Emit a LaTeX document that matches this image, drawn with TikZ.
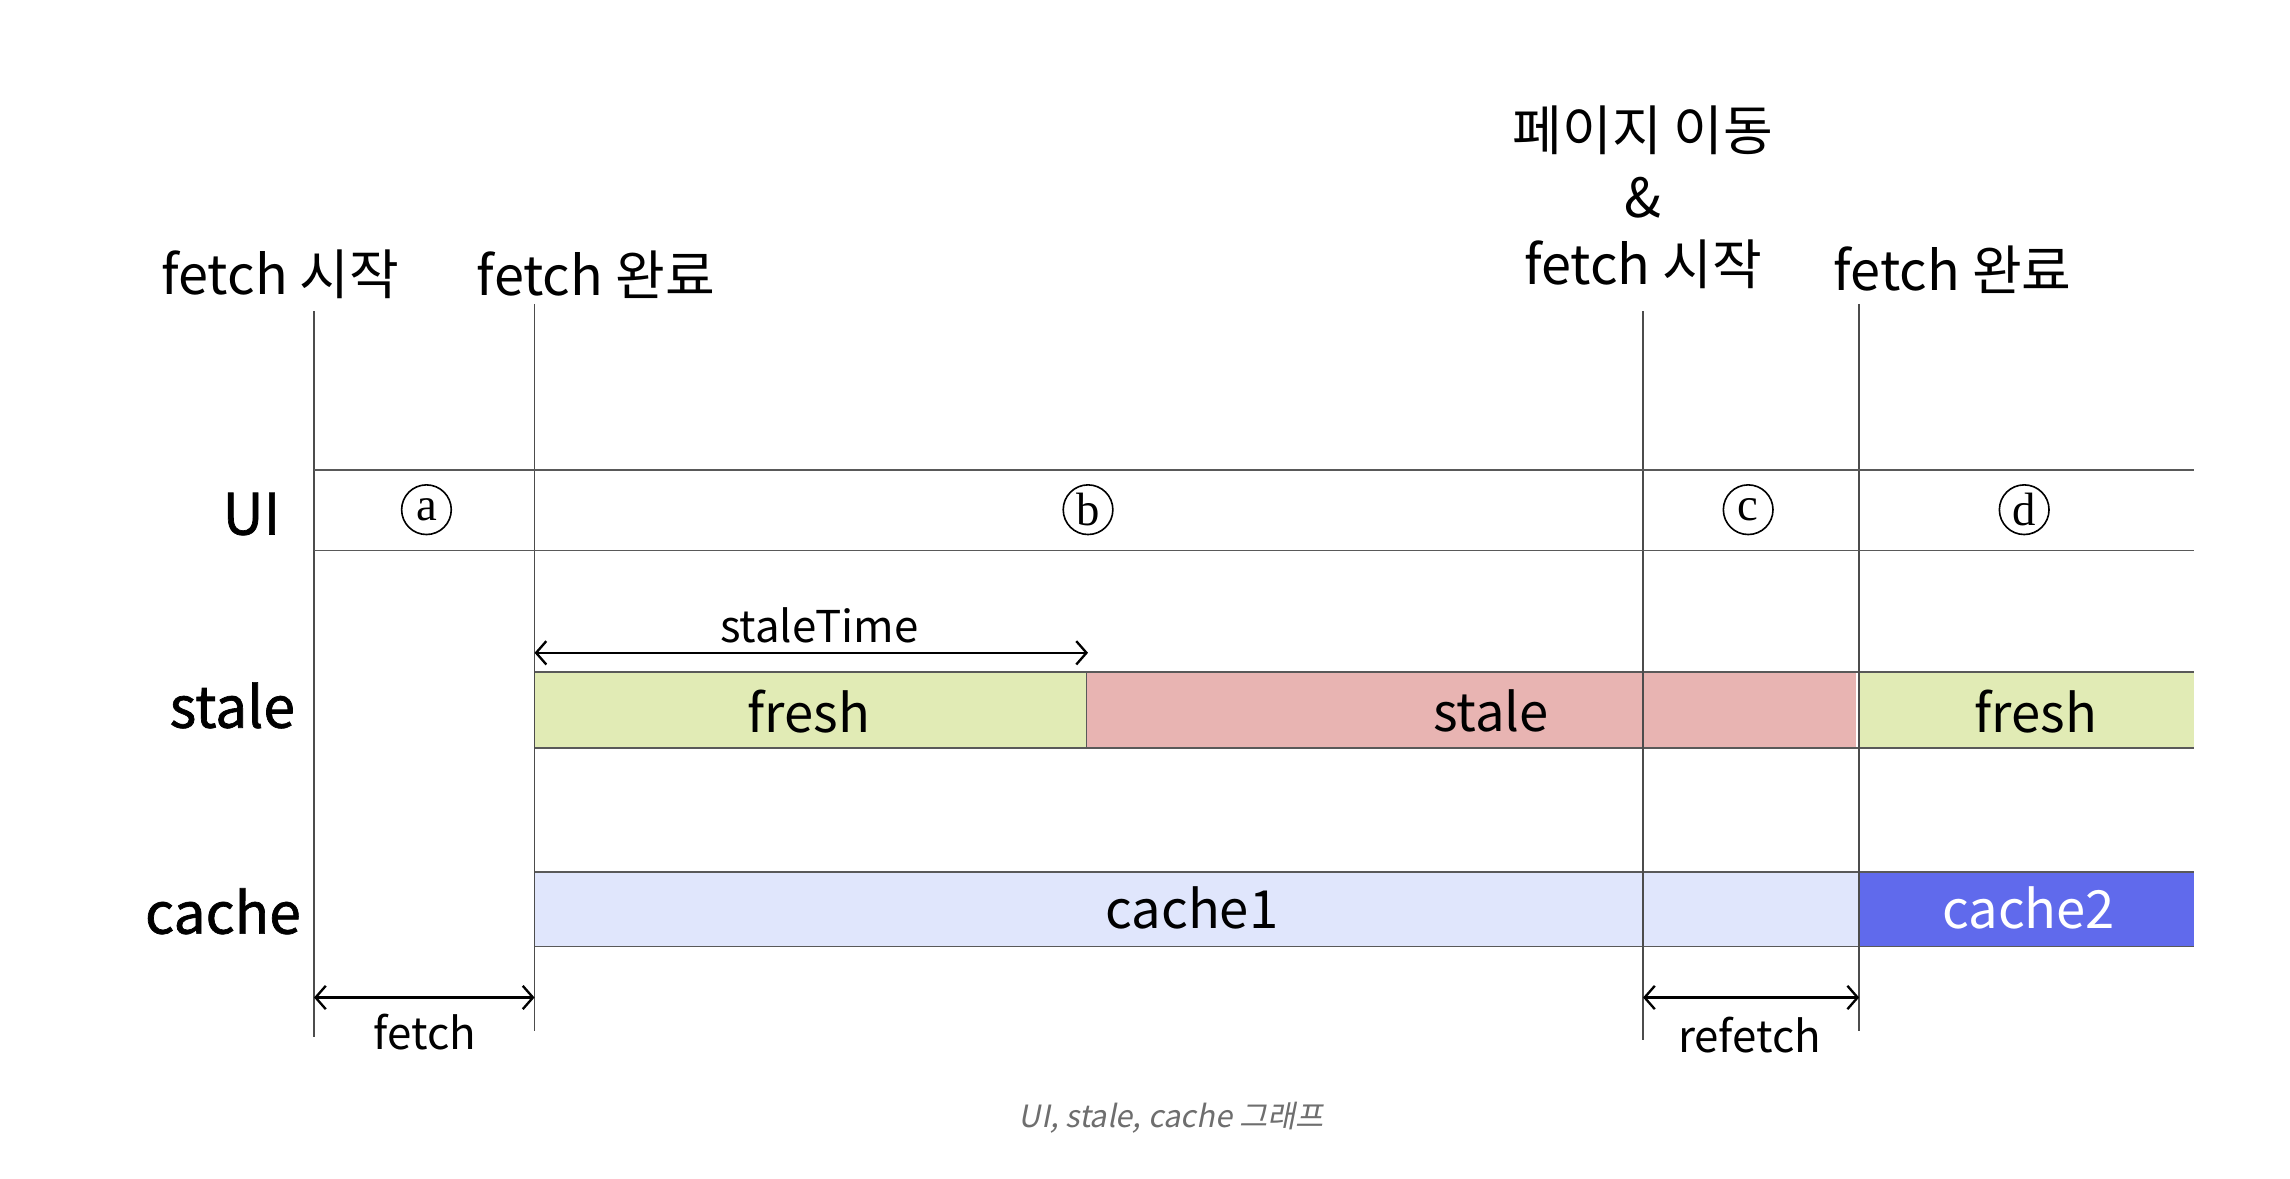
\documentclass[tikz,border=0pt]{standalone}
\usepackage{fontspec}
\usetikzlibrary{arrows.meta}
\newfontfamily\krfont{Noto Sans CJK KR}
\newfontfamily\krmedium[FakeBold=1.2]{Noto Sans CJK KR}
\newfontfamily\capfont[FakeSlant=0.2]{Noto Sans CJK KR}
\newfontfamily\letterfont{Liberation Serif}
\definecolor{freshgreen}{RGB}{225,235,181}
\definecolor{stalered}{RGB}{232,180,178}
\definecolor{cacheone}{RGB}{224,230,252}
\definecolor{cachetwo}{RGB}{96,106,236}
\definecolor{captiongray}{RGB}{110,110,110}
\begin{document}
\begin{tikzpicture}[x=0.5pt, y=-0.5pt,
    toplabel/.style={font=\krfont\fontsize{18.5}{23}\selectfont, align=center},
    rowlabel/.style={font=\krmedium\fontsize{19.5}{23}\selectfont, anchor=east},
    barlabel/.style={font=\krfont\fontsize{18}{22}\selectfont},
    spanlabel/.style={font=\krfont\fontsize{15}{18}\selectfont},
    circlbl/.style={circle, draw, line width=0.55pt, inner sep=0pt, minimum size=17pt, font=\letterfont\fontsize{16}{16}\selectfont},
    guide/.style={draw=black!70, line width=0.5pt},
    rowline/.style={draw=black!65, line width=0.6pt},
    spanarrow/.style={{Straight Barb[length=3.5pt,width=8pt]}-{Straight Barb[length=3.5pt,width=8pt]}, line width=0.8pt}]
    \useasboundingbox (0,0) rectangle (1568,807);

    % Event labels
    \node[toplabel] (startA) at (192,188) {fetch 시작};
    \node[toplabel] (doneB) at (408,188) {fetch 완료};
    \node[toplabel] (moveC) at (1125,135) {페이지 이동\\\&\\fetch 시작};
    \node[toplabel] (doneD) at (1337,185) {fetch 완료};

    % Row labels
    \node[rowlabel] (rowUI) at (199,352) {UI};
    \node[rowlabel] (rowStale) at (209,483) {stale};
    \node[rowlabel] (rowCache) at (213,624) {cache};

    % stale row
    \fill[freshgreen] (366,460) rectangle (744,512);
    \fill[stalered] (744,460) rectangle (1271,512);
    \fill[freshgreen] (1273,460) rectangle (1502,512);
    \draw[rowline] (366,460) -- (1502,460) (366,512) -- (1502,512) (744,460) -- (744,512);
    \node[barlabel] (fresh1) at (554,487) {fresh};
    \node[barlabel] (stale1) at (1021,487) {stale};
    \node[barlabel] (fresh2) at (1394,487) {fresh};

    % cache row
    \fill[cacheone] (366,597) rectangle (1273,648);
    \fill[cachetwo] (1273,597) rectangle (1502,648);
    \draw[rowline] (366,597) -- (1502,597) (366,648) -- (1502,648);
    \node[barlabel] (cache1) at (816,622) {cache1};
    \node[barlabel, text=white] (cache2) at (1389,622) {cache2};

    % Time lines
    \coordinate (tA) at (215,0);
    \coordinate (tB) at (366,0);
    \coordinate (tC) at (1125,0);
    \coordinate (tD) at (1273,0);
    \draw[guide] (tA |- 0,213) -- (tA |- 0,710);
    \draw[guide] (tB |- 0,208) -- (tB |- 0,706);
    \draw[guide] (tC |- 0,213) -- (tC |- 0,712);
    \draw[guide] (tD |- 0,208) -- (tD |- 0,706);

    % UI row
    \draw[rowline] (215,322) -- (1502,322) (215,377) -- (1502,377);
    \node[circlbl] (uiA) at (292,349) {a};
    \node[circlbl] (uiB) at (745,349) {b};
    \node[circlbl] (uiC) at (1197,349) {c};
    \node[circlbl] (uiD) at (1386,349) {d};

    % Durations
    \draw[spanarrow] (tB |- 0,447) -- (745,447);
    \node[spanlabel] (staleTime) at (561,428) {staleTime};
    \draw[spanarrow] (tA |- 0,683) -- (tB |- 0,683);
    \node[spanlabel] (fetchLbl) at (291,707) {fetch};
    \draw[spanarrow] (tC |- 0,683) -- (tD |- 0,683);
    \node[spanlabel] (refetchLbl) at (1198,709) {refetch};

    % Caption
    \node[font=\capfont\fontsize{10.5}{12}\selectfont, text=captiongray] (caption) at (802,765) {UI, stale, cache 그래프};
\end{tikzpicture}
\end{document}
